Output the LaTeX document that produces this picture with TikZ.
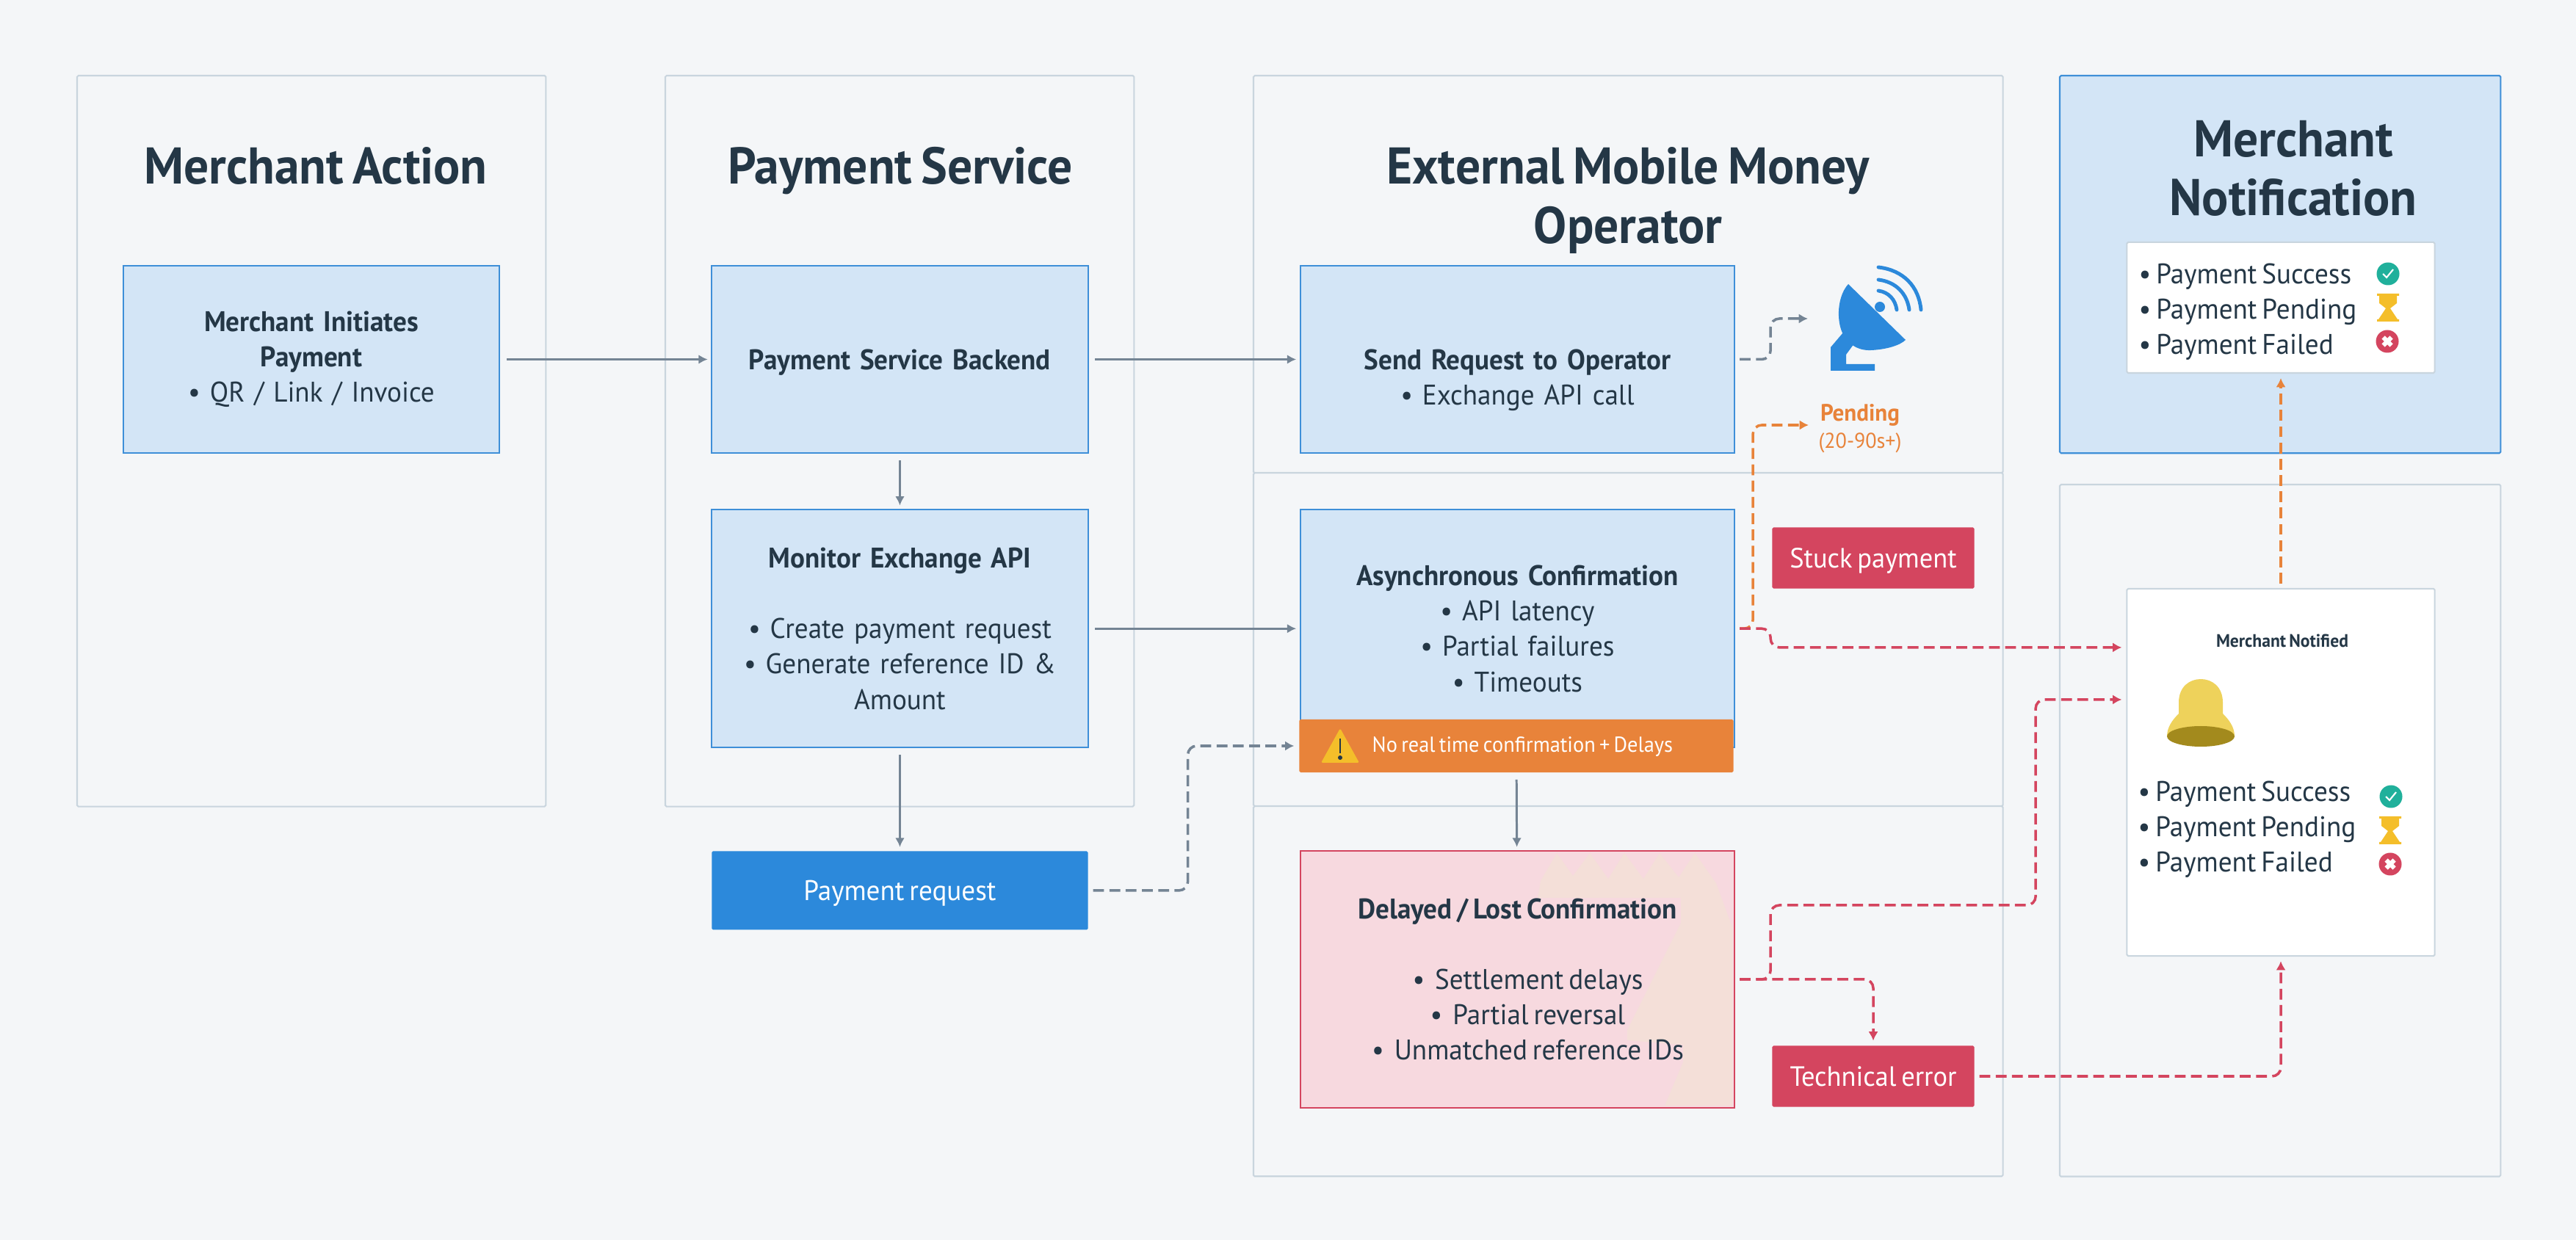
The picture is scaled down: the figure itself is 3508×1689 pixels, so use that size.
\documentclass[tikz,border=0pt]{standalone}
\usepackage{fontspec}
\setmainfont[FakeStretch=0.96,WordSpace=0.7]{PT Sans}
\usetikzlibrary{arrows.meta, positioning}
\definecolor{page_bg}{HTML}{F4F6F8}
\definecolor{panel_line}{HTML}{C9D5DE}
\definecolor{blue_fill}{HTML}{D3E5F6}
\definecolor{blue_line}{HTML}{3E8FD8}
\definecolor{blue_solid}{HTML}{2C89DB}
\definecolor{ink}{HTML}{243746}
\definecolor{gray_arrow}{HTML}{748494}
\definecolor{orange_solid}{HTML}{E8833A}
\definecolor{red_solid}{HTML}{D4455F}
\definecolor{pink_fill}{HTML}{F7D9DF}
\definecolor{pink_light}{HTML}{F4DFD8}
\definecolor{amber}{HTML}{F4BE2A}
\definecolor{teal}{HTML}{20B09B}
\definecolor{bell_top}{HTML}{EED25B}
\definecolor{bell_rim}{HTML}{A38A1D}
\tikzset{
    panel/.style={rectangle, draw=panel_line, line width=0.6pt, fill=page_bg, anchor=north west, outer sep=0pt, rounded corners=0.5pt},
    heading/.style={text=ink, font=\fontsize{20}{22.8}\selectfont\bfseries, align=center},
    block_blue/.style={rectangle, draw=blue_line, line width=0.6pt, fill=blue_fill, text=ink, outer sep=0pt, inner sep=0pt, text centered, minimum width=5.12cm, text width=4.9cm, font=\fontsize{11}{13.7}\selectfont},
    block_red/.style={rectangle, fill=red_solid, text=white, outer sep=0pt, rounded corners=0.5pt, minimum width=2.75cm, minimum height=0.83cm, text depth=0pt, font=\fontsize{10.8}{13.7}\selectfont},
    block_white/.style={rectangle, draw=panel_line, line width=0.6pt, fill=white, outer sep=0pt, rounded corners=0.5pt, minimum width=4.19cm},
    list_text/.style={text=ink, anchor=west, inner sep=0pt, align=left, font=\fontsize{11}{13.7}\selectfont},
    arrow/.style={-{Latex[length=3.5pt,width=3.6pt]}, line width=0.85pt, gray_arrow, shorten <=2.8pt, shorten >=1.6pt},
    arrow_dash/.style={-{Latex[length=3.5pt,width=3.8pt]}, line width=1pt, dash pattern=on 4.2pt off 2.1pt, rounded corners=0.12cm, shorten <=2pt, shorten >=2pt},
    icon_check/.pic={
        \fill [teal] (0,0) circle (15.5);
        \draw [white, line width=0.6pt] (-7,0) -- (-2,5) -- (7,-6);
    },
    icon_cross/.pic={
        \fill [red_solid] (0,0) circle (15.5);
        \draw [white, line width=1.7pt] (-5.5,-5.5) -- (5.5,5.5) (-5.5,5.5) -- (5.5,-5.5);
    },
    icon_glass/.pic={
        \fill [amber] (-15,-19) -- (15,-19) -- (15,-16) -- (12,-16) -- (12,-6) -- (3,1) -- (13,16) -- (15,16) -- (15,19) -- (-15,19) -- (-15,16) -- (-13,16) -- (-3,1) -- (-12,-6) -- (-12,-16) -- (-15,-16) -- cycle;
    }
}
\begin{document}
\begin{tikzpicture}[x=0.01cm, y=-0.01cm]
    \useasboundingbox [fill=page_bg] (0,0) rectangle (3508,1689);

    % Column panels
    \node (p_merchant) [panel, minimum width=6.38cm, minimum height=9.95cm] at (105,103) {};
    \node (p_service) [panel, minimum width=6.38cm, minimum height=9.95cm] at (906,103) {};
    \node (p_op_a) [panel, minimum width=10.2cm, minimum height=5.41cm] at (1707,103) {};
    \node (p_op_b) [panel, minimum width=10.2cm, minimum height=4.54cm] at (1707,644) {};
    \node (p_op_c) [panel, minimum width=10.2cm, minimum height=5.04cm] at (1707,1098) {};
    \node (p_top) [panel, draw=blue_line, fill=blue_fill, minimum width=6cm, minimum height=5.14cm] at (2805,103) {};
    \node (p_bottom) [panel, minimum width=6cm, minimum height=9.42cm] at (2805,660) {};

    % Headings
    \node (h_merchant) [heading] at (430,226) {Merchant Action};
    \node (h_service) [heading] at (1226,233) {Payment Service};
    \node (h_op) [heading] at (2217,273) {External Mobile Money\\Operator};
    \node (h_top) [heading] at (3123,229) {Merchant\\Notification};

    % Main blocks
    \node (init) [block_blue, minimum height=2.55cm] at (424,489.5) {\textbf{Merchant Initiates\\Payment}\\• QR / Link / Invoice};
    \node (back) [block_blue, right=2.89cm of init, minimum height=2.55cm, text depth=0pt] {\textbf{Payment Service Backend}};
    \node (send) [block_blue, right=2.89cm of back, minimum height=2.55cm, minimum width=5.91cm, text width=5.6cm, text depth=0pt] {\textbf{Send Request to Operator}\\• Exchange API call};
    \node (mon) [block_blue, below=0.77cm of back, minimum height=3.24cm] {\textbf{Monitor Exchange API}\\[13.7pt]• Create payment request\\• Generate reference ID \&\\Amount};
    \node (async) [block_blue, below=0.77cm of send, minimum height=3.24cm, minimum width=5.91cm, text width=5.6cm] {\textbf{Asynchronous Confirmation}\\• API latency\\• Partial failures\\• Timeouts};
    \node (banner) [rectangle, fill=orange_solid, outer sep=0pt, rounded corners=0.5pt, minimum width=5.91cm, minimum height=0.72cm] at (2065,1016) {};
    \node (banner_txt) [text=white, font=\fontsize{8.4}{10}\selectfont, anchor=west, inner sep=0pt] at (1868,1017) {No real time confirmation + Delays};
    \node (prq) [rectangle, fill=blue_solid, text=white, below=1.41cm of mon, outer sep=0pt, rounded corners=0.5pt, minimum width=5.12cm, minimum height=1.07cm, text depth=0pt, font=\fontsize{11}{13.7}\selectfont] {Payment request};
    \node (delayed) [rectangle, draw=red_solid, line width=0.6pt, fill=pink_fill, below=1.41cm of async, outer sep=0pt, minimum width=5.91cm, minimum height=3.49cm] {};
    \fill [pink_light] (2267,1506) -- (2359,1506) -- (2359,1263) -- (2337,1203) -- (2308,1162) -- (2286,1195) -- (2260,1162) -- (2238,1197) -- (2212,1162) -- (2190,1197) -- (2165,1162) -- (2142,1193) -- (2120,1162) -- (2098,1200) -- (2094,1223) -- (2289,1223) -- (2289,1257) -- (2216,1403) -- (2216,1417) -- (2292,1423) -- (2292,1447) -- cycle;
    \node (delayed_txt) [text=ink, align=center, font=\fontsize{11}{13.7}\selectfont] at (delayed.center) {\textbf{Delayed / Lost Confirmation}\\[13.7pt]\hspace*{8pt}•\ \ Settlement delays\\\hspace*{8pt}•\ \ Partial reversal\\\hspace*{8pt}•\ \ Unmatched reference IDs};

    \node (stuck) [block_red] at (2551,760) {Stuck payment};
    \node (tech) [block_red] at (2551,1466) {Technical error};

    % Pending label
    \node (pend) [text=orange_solid, align=center, inner sep=0pt, font=\fontsize{8.3}{10.5}\selectfont] at (2533,584) {\textbf{\fontsize{9.2}{10.5}\selectfont Pending}\\(20-90s+)};
    \coordinate (pend_in) at (2470,579);

    % Dish icon
    \fill [blue_solid] (2517,387) .. controls (2505,400) and (2501,425) .. (2506,445) .. controls (2512,468) and (2530,478) .. (2548,477) .. controls (2570,476) and (2588,470) .. (2595,463) -- cycle;
    \fill [blue_solid] (2510,453) -- (2493,473) -- (2493,505) -- (2553,505) -- (2553,496) -- (2514,496) -- (2514,483) -- (2525,468) -- cycle;
    \fill [blue_solid] (2560,418) circle (7);
    \draw [blue_solid, line width=1.4pt, line cap=round] (2558,396) .. controls (2572,398) and (2581,408) .. (2583,422);
    \draw [blue_solid, line width=1.4pt, line cap=round] (2558,381) .. controls (2582,384) and (2597,400) .. (2600,422);
    \draw [blue_solid, line width=1.4pt, line cap=round] (2558,364) .. controls (2592,368) and (2613,390) .. (2616,422);
    \coordinate (dish) at (2469,434);

    % Warning triangle
    \fill [amber, rounded corners=0.5pt] (1825,992) -- (1851,1039) -- (1799,1039) -- cycle;
    \draw [ink, line width=0.8pt] (1825,1006) -- (1825,1026);
    \fill [ink] (1825,1032) circle (3);

    % Notification cards
    \node (top_list) [block_white, minimum height=1.78cm] at (3106,419) {};
    \node (lst_top) [list_text] at (2912,425) {• Payment Success\\• Payment Pending\\• Payment Failed};
    \pic at (3252,373) {icon_check};
    \pic at (3252,419) {icon_glass};
    \pic at (3251,465) {icon_cross};

    \node (notif) [block_white, minimum height=5cm] at (3106,1052) {};
    \node (notif_title) [text=ink, font=\fontsize{7}{9}\selectfont\bfseries] at (3108,873) {Merchant Notified};
    \node (lst_notif) [list_text] at (2911,1130) {• Payment Success\\• Payment Pending\\• Payment Failed};
    \pic at (3256,1085) {icon_check};
    \pic at (3255,1131) {icon_glass};
    \pic at (3255,1177) {icon_cross};

    % Bell
    \fill [bell_top] (2967,972) -- (2967,957) .. controls (2967,935) and (2982,925) .. (2997,925) .. controls (3012,925) and (3027,935) .. (3027,957) -- (3027,972) .. controls (3035,980) and (3043,990) .. (3043,1003) -- (2951,1003) .. controls (2951,990) and (2959,980) .. (2967,972) -- cycle;
    \fill [bell_rim] (2997,1003) ellipse [x radius=46, y radius=14];

    \coordinate (notif_a) at ([yshift=-0.8cm]notif.north west);
    \coordinate (notif_b) at ([yshift=-1.51cm]notif.north west);

    % Solid arrows
    \draw [arrow] (init) -- (back);
    \draw [arrow] (back) -- (send);
    \draw [arrow] (back) -- (mon);
    \draw [arrow] (mon) -- (async);
    \draw [arrow] (mon) -- (prq);
    \draw [arrow] (banner) -- (delayed);

    % Dashed arrows
    \draw [arrow_dash, gray_arrow] (prq.east) -- ++(136,0) |- (banner.west);
    \draw [arrow_dash, gray_arrow] (send.east) -- ++(49,0) |- (dish);
    \draw [arrow_dash, orange_solid] (async.east) -- ++(25,0) |- (pend_in);
    \draw [arrow_dash, red_solid] (async.east) -- ++(49,0) |- (notif_a);
    \draw [arrow_dash, red_solid] (delayed.east) -- ++(49,0) |- ++(361,-101) |- (notif_b);
    \draw [arrow_dash, red_solid] (delayed.east) -| (tech.north);
    \draw [arrow_dash, red_solid] (tech.east) -| (notif.south);
    \draw [arrow_dash, orange_solid] (notif.north) -- (top_list.south);
\end{tikzpicture}
\end{document}
